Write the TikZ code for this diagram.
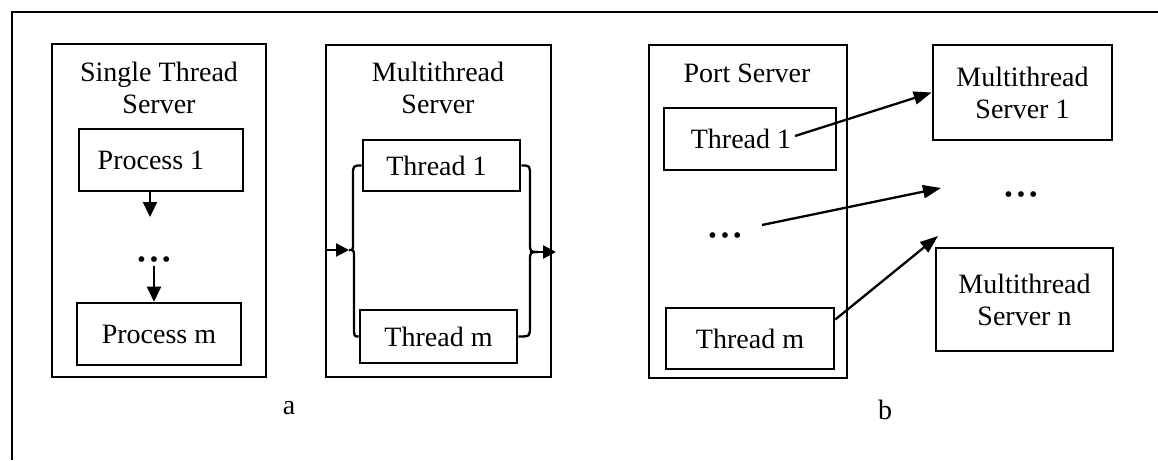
\documentclass[tikz,border=0pt]{standalone}
\usepackage{fontspec}
\setmainfont{Liberation Serif}
\usetikzlibrary{arrows.meta,calc}
\begin{document}
\begin{tikzpicture}[x=1pt,y=-1pt,
  box/.style={draw, line width=2.8pt, inner sep=0pt},
  inbox/.style={draw, line width=2.6pt, inner sep=0pt, font=\fontsize{28}{32}\selectfont, align=center},
  lbl/.style={font=\fontsize{28}{32}\selectfont, align=center, inner sep=0pt},
  dotsn/.style={font=\fontsize{24}{24}\selectfont, inner sep=0pt},
  conn/.style={line width=2.3pt, -{Triangle[length=15pt,width=14pt]}},
  small/.style={line width=2.3pt, -{Triangle[length=13pt,width=13pt]}},
  brk/.style={line width=2.3pt},
  port/.style={line width=2.3pt, -{Triangle[length=18pt,width=13pt]}}]
\useasboundingbox (0,0) rectangle (1158,460);
% outer frame (top and left edges)
\draw[line width=2.8pt] (12,460) -- (12,12) -- (1158,12);

% ---------- a: single thread server ----------
\node[box, minimum width=214pt, minimum height=333pt] (A) at (159,210.5) {};
\node[lbl] (At) at (159,88) {Single Thread\\Server};
\node[inbox, minimum width=164pt, minimum height=62pt] (p1) at (161,160) {\hspace*{-20pt}Process 1};
\node[dotsn] (ad) at (154,262) {•\hspace{4pt}•\hspace{4pt}•};
\node[inbox, minimum width=164pt, minimum height=62pt] (pm) at (159,334) {Process m};
\coordinate (a1e) at (150,217);
\draw[conn] ($(p1.south)+(-11,0)$) -- (a1e);
\draw[conn] ($(pm.north)+(-5,-36)$) -- ($(pm.north)+(-5,0)$);

% ---------- a: multithread server ----------
\node[box, minimum width=225pt, minimum height=332pt] (M) at (438.5,211) {};
\node[lbl] (Mt) at (438,88) {Multithread\\Server};
\node[inbox, minimum width=157pt, minimum height=51pt] (mt1) at (441.5,165.5) {\hspace*{-10pt}Thread 1};
\node[inbox, minimum width=157pt, minimum height=53pt] (mtm) at (438.5,336.5) {Thread m};
\coordinate (lin) at (326,250);
\coordinate (ljoin) at (349,250);
\coordinate (rjoin) at (538,252);
\coordinate (rout) at (556,252);
\draw[brk] (mt1.west) .. controls (353,165.5) .. (353,176) -- (353,243)
  .. controls (353,250) .. (ljoin) .. controls (354,250) .. (354,257)
  -- (354,326) .. controls (354,336.5) .. (mtm.west);
\draw[brk] (mt1.east) .. controls (530,165.5) .. (530,176) -- (530,243)
  .. controls (530,252) .. (rjoin);
\draw[brk] (mtm.east) .. controls (530,336.5) .. (530,326) -- (530,261)
  .. controls (530,252) .. (rjoin);
\draw[small] (lin) -- (ljoin);
\draw[small] (rjoin) -- (rout);

\node[lbl] (la) at (289,408) {a};

% ---------- b: port server ----------
\node[box, minimum width=198pt, minimum height=333pt] (P) at (748,211.5) {};
\node[lbl] (Pt) at (747,73) {Port Server};
\node[inbox, minimum width=172pt, minimum height=62pt] (pt1) at (750,139) {\hspace*{-18pt}Thread 1};
\node[dotsn] (pd) at (725,238) {•\hspace{4pt}•\hspace{4pt}•};
\node[inbox, minimum width=168pt, minimum height=61pt] (ptm) at (750,338.5) {Thread m};

\node[inbox, minimum width=179pt, minimum height=95pt] (ms1) at (1022.5,92.5) {Multithread\\Server 1};
\node[dotsn] (md) at (1021,197) {•\hspace{4pt}•\hspace{4pt}•};
\node[inbox, minimum width=177pt, minimum height=103pt] (msn) at (1024.5,299.5) {Multithread\\Server n};

\coordinate (s1) at (795,136);
\coordinate (s2) at (762,225);
\coordinate (e2) at (941,188);
\coordinate (e3) at (938,236);
\draw[port] (s1) -- (ms1.west);
\draw[port] (s2) -- (e2);
\draw[port] ($(ptm.east)+(0,-19)$) -- (e3);

\node[lbl] (lb) at (885,410) {b};
\end{tikzpicture}
\end{document}
